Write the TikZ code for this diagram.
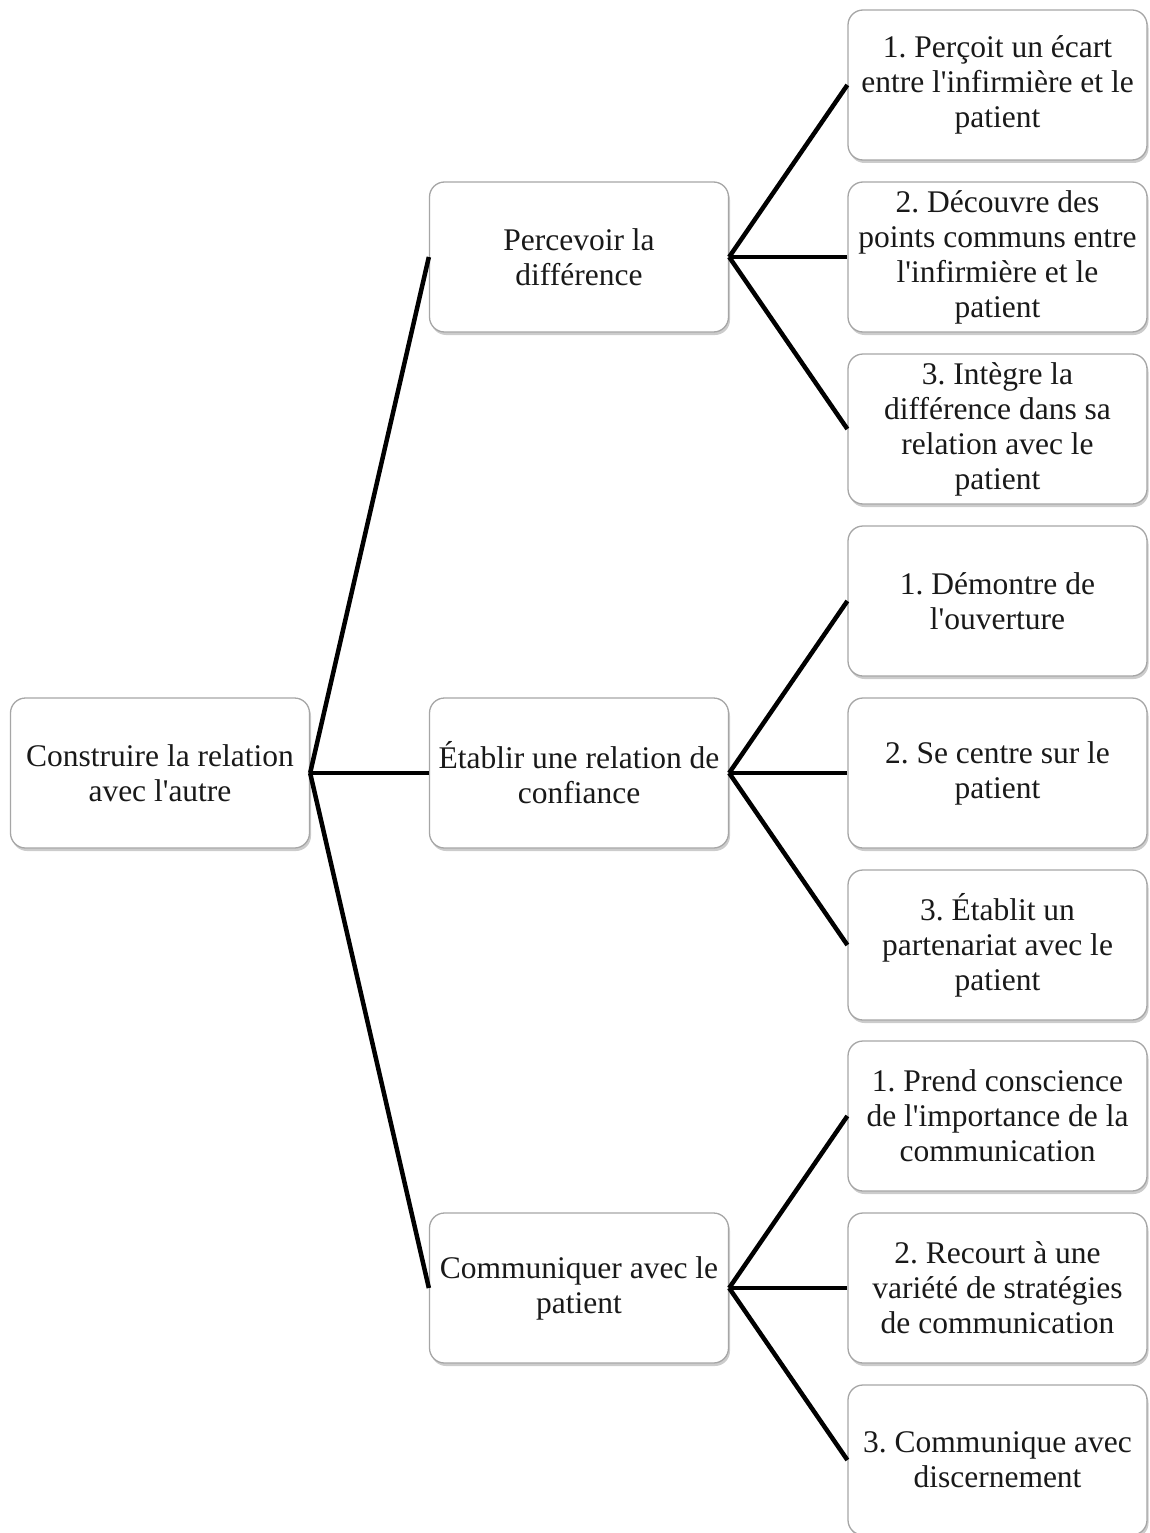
\documentclass[tikz,border=0pt]{standalone}
\usepackage{fontspec}
\setmainfont{Liberation Serif}
\usetikzlibrary{shadows}
\newcommand{\ap}{\textquotesingle}
\frenchspacing
\begin{document}
\begin{tikzpicture}[x=1pt,y=-1pt]

	\tikzstyle{caja}=[draw=gray!70, line width=1.3pt, rounded corners=15pt, fill=white, minimum width=299pt, minimum height=150pt, align=center, text=black!90, font=\fontsize{31.5}{35}\selectfont, drop shadow={shadow xshift=1.5pt, shadow yshift=-3pt, opacity=0.4}]
	\tikzstyle{enlace}=[black, line width=4.5pt]

	\useasboundingbox (0,0) rectangle (1149,1533);

	\coordinate (c_0) at (160, 773); % RACINE
	\coordinate (c_1_1) at (579, 257); % NIVEAU 1
	\coordinate (c_1_2) at (579, 773); % NIVEAU 1
	\coordinate (c_1_3) at (579, 1288); % NIVEAU 1
	\coordinate (c_2_1) at (997.5, 85); % NIVEAU 2
	\coordinate (c_2_2) at (997.5, 257); % NIVEAU 2
	\coordinate (c_2_3) at (997.5, 429); % NIVEAU 2
	\coordinate (c_2_4) at (997.5, 601); % NIVEAU 2
	\coordinate (c_2_5) at (997.5, 773); % NIVEAU 2
	\coordinate (c_2_6) at (997.5, 945); % NIVEAU 2
	\coordinate (c_2_7) at (997.5, 1116); % NIVEAU 2
	\coordinate (c_2_8) at (997.5, 1288); % NIVEAU 2
	\coordinate (c_2_9) at (997.5, 1460); % NIVEAU 2

	\node[caja] (c_0) at (c_0) {Construire la relation\\avec l\ap autre}; % RACINE

	\node[caja] (c_1_1) at (c_1_1) {Percevoir la\\différence}; % NIVEAU 1
	\node[caja] (c_1_2) at (c_1_2) {Établir une relation de\\confiance}; % NIVEAU 1
	\node[caja] (c_1_3) at (c_1_3) {Communiquer avec le\\patient}; % NIVEAU 1

	\node[caja] (c_2_1) at (c_2_1) {1. Perçoit un écart\\entre l\ap infirmière et le\\patient}; % NIVEAU 2
	\node[caja] (c_2_2) at (c_2_2) {2. Découvre des\\points communs entre\\l\ap infirmière et le\\patient}; % NIVEAU 2
	\node[caja] (c_2_3) at (c_2_3) {3. Intègre la\\différence dans sa\\relation avec le\\patient}; % NIVEAU 2
	\node[caja] (c_2_4) at (c_2_4) {1. Démontre de\\l\ap ouverture}; % NIVEAU 2
	\node[caja] (c_2_5) at (c_2_5) {2. Se centre sur le\\patient}; % NIVEAU 2
	\node[caja] (c_2_6) at (c_2_6) {3. Établit un\\partenariat avec le\\patient}; % NIVEAU 2
	\node[caja] (c_2_7) at (c_2_7) {1. Prend conscience\\de l\ap importance de la\\communication}; % NIVEAU 2
	\node[caja] (c_2_8) at (c_2_8) {2. Recourt à une\\variété de stratégies\\de communication}; % NIVEAU 2
	\node[caja] (c_2_9) at (c_2_9) {3. Communique avec\\discernement}; % NIVEAU 2

	\draw[enlace] (c_0.east) -- (c_1_1.west);
	\draw[enlace] (c_0.east) -- (c_1_2.west);
	\draw[enlace] (c_0.east) -- (c_1_3.west);

	\draw[enlace] (c_1_1.east) -- (c_2_1.west);
	\draw[enlace] (c_1_1.east) -- (c_2_2.west);
	\draw[enlace] (c_1_1.east) -- (c_2_3.west);
	\draw[enlace] (c_1_2.east) -- (c_2_4.west);
	\draw[enlace] (c_1_2.east) -- (c_2_5.west);
	\draw[enlace] (c_1_2.east) -- (c_2_6.west);
	\draw[enlace] (c_1_3.east) -- (c_2_7.west);
	\draw[enlace] (c_1_3.east) -- (c_2_8.west);
	\draw[enlace] (c_1_3.east) -- (c_2_9.west);

\end{tikzpicture}
\end{document}
